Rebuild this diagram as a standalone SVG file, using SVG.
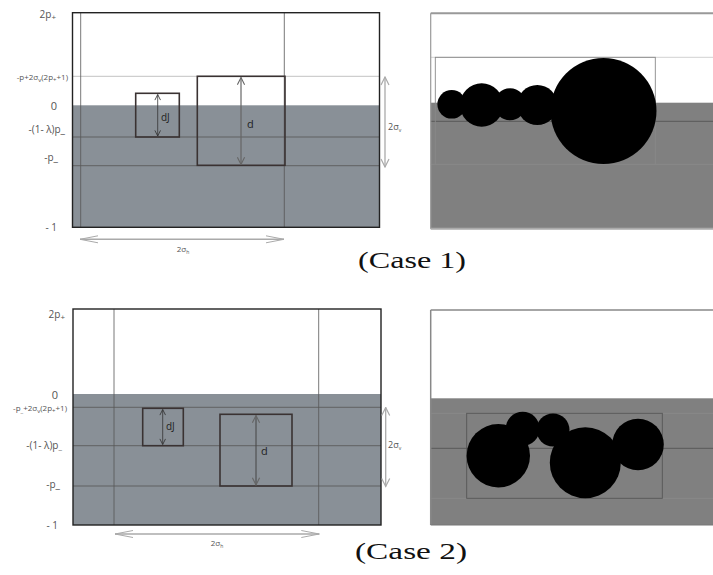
<svg xmlns="http://www.w3.org/2000/svg" width="713" height="575" viewBox="0 0 713 575">
<style>
.lbl{font-family:"Open Sans","Liberation Sans",sans-serif;font-size:10px;fill:#555}
.sm{font-size:8px}
.box{fill:none;stroke:#3a3232;stroke-width:1.6}
.frame{fill:none;stroke:#222;stroke-width:1.4}
.vl{stroke:#555;stroke-width:0.8}
.hl{stroke:#5c5c5c;stroke-width:0.9}
.gfill{fill:#899097}
.rfill{fill:#808080}
.cap{font-family:"Liberation Serif","DejaVu Serif",serif;font-size:24px;fill:#111}
</style>
<defs>
<marker id="mD" viewBox="0 0 10 10" refX="9" refY="5" markerWidth="7" markerHeight="7" orient="auto-start-reverse" markerUnits="userSpaceOnUse"><path d="M1,1 L9,5 L1,9" fill="none" stroke="#333" stroke-width="1.2"/></marker>
<marker id="mG" viewBox="0 0 10 10" refX="9" refY="5" markerWidth="9" markerHeight="9" orient="auto-start-reverse" markerUnits="userSpaceOnUse"><path d="M1,1 L9,5 L1,9" fill="none" stroke="#666" stroke-width="1.2"/></marker>
<marker id="mL" viewBox="0 0 10 10" refX="9" refY="5" markerWidth="10" markerHeight="10" orient="auto-start-reverse" markerUnits="userSpaceOnUse"><path d="M1,1 L9,5 L1,9" fill="none" stroke="#aaa" stroke-width="1.2"/></marker>
<marker id="mH" viewBox="0 0 20 10" refX="19" refY="5" markerWidth="20" markerHeight="10" orient="auto-start-reverse" markerUnits="userSpaceOnUse"><path d="M1,1.5 L19,5 L1,8.5" fill="none" stroke="#aaa" stroke-width="1"/></marker>
</defs>

<!-- Case 1 left plot -->
<g id="case1-plot">
<rect x="72.5" y="12.7" width="307" height="214.6" fill="#fff"/>
<rect class="gfill" x="72.5" y="105.3" width="307" height="122"/>
<line x1="72.5" y1="76.3" x2="379.5" y2="76.3" stroke="#bbb" stroke-width="0.9"/>
<line class="hl" x1="72.5" y1="137" x2="379.5" y2="137"/>
<line class="hl" x1="72.5" y1="165.7" x2="379.5" y2="165.7"/>
<line class="vl" x1="80.7" y1="12.7" x2="80.7" y2="227.3"/>
<line class="vl" x1="284.3" y1="12.7" x2="284.3" y2="227.3"/>
<rect class="frame" x="72.5" y="12.7" width="307" height="214.6"/>
</g>
<g id="case1-dJ">
<rect class="box" x="135.7" y="93.3" width="43.6" height="43.7"/>
<line x1="157.7" y1="94.5" x2="157.7" y2="136" stroke="#333" stroke-width="0.8" marker-start="url(#mD)" marker-end="url(#mD)"/>
<text class="lbl" x="161" y="121" style="fill:#222">dJ</text>
</g>
<g id="case1-d">
<rect class="box" x="197.3" y="76.3" width="87.7" height="89"/>
<line x1="241" y1="77.5" x2="241" y2="164.5" stroke="#666" stroke-width="1.2" marker-start="url(#mG)" marker-end="url(#mG)"/>
<text class="lbl" x="247" y="128" style="fill:#222;font-size:11px">d</text>
</g>
<g id="case1-axis-labels">
<text class="lbl" x="56" y="18" text-anchor="end">2p<tspan class="sm" dy="2">+</tspan></text>
<text class="lbl sm" x="68" y="79.5" text-anchor="end">-p+2σ<tspan font-size="6" dy="2">v</tspan><tspan dy="-2">(2p</tspan><tspan font-size="6" dy="2">+</tspan><tspan dy="-2">+1)</tspan></text>
<text class="lbl" x="57" y="110" text-anchor="end" style="font-size:11px">0</text>
<text class="lbl" x="65" y="133" text-anchor="end">-(1- λ)p_</text>
<text class="lbl" x="58" y="161" text-anchor="end">-p_</text>
<text class="lbl" x="57" y="231" text-anchor="end">- 1</text>
</g>
<g id="case1-sigma">
<line x1="385" y1="77" x2="385" y2="167" stroke="#aaa" stroke-width="1.3" marker-start="url(#mL)" marker-end="url(#mL)"/>
<text class="lbl sm" x="388" y="130" style="font-size:9px">2σ<tspan font-size="5" dy="2">v</tspan></text>
<line x1="80" y1="239.3" x2="284" y2="239.3" stroke="#aaa" stroke-width="1.5" marker-start="url(#mH)" marker-end="url(#mH)"/>
<text class="lbl sm" x="183" y="252" text-anchor="middle">2σ<tspan font-size="5" dy="2">h</tspan></text>
</g>

<!-- Case 1 right -->
<g id="case1-sim">
<rect x="430.7" y="13.3" width="290" height="215" fill="#fff"/>
<rect class="rfill" x="430.7" y="102.7" width="290" height="126"/>
<line x1="430.7" y1="57.3" x2="713" y2="57.3" stroke="#ccc" stroke-width="0.9"/>
<line x1="430.7" y1="121.3" x2="713" y2="121.3" stroke="#555" stroke-width="0.9"/>
<line x1="430.7" y1="164.3" x2="713" y2="164.3" stroke="#8a8a8a" stroke-width="0.8"/>
<rect x="435.3" y="57.3" width="220" height="107" fill="none" stroke="#888" stroke-width="0.9"/>
<line x1="430.7" y1="13.3" x2="713" y2="13.3" stroke="#999" stroke-width="2"/>
<line x1="430.7" y1="13.3" x2="430.7" y2="228.7" stroke="#999" stroke-width="1.2"/>
<line x1="430.7" y1="228.7" x2="713" y2="228.7" stroke="#aaa" stroke-width="2"/>
<circle cx="451.7" cy="104.3" r="14.3"/>
<circle cx="481.7" cy="105" r="21.7"/>
<circle cx="510" cy="104.3" r="16"/>
<circle cx="537.3" cy="105" r="20"/>
<circle cx="603.5" cy="111" r="53"/>
</g>
<text id="caption1" class="cap" x="358" y="268" textLength="108" lengthAdjust="spacingAndGlyphs">(Case 1)</text>

<!-- Case 2 left plot -->
<g id="case2-plot">
<rect x="73" y="309" width="308" height="216" fill="#fff"/>
<rect class="gfill" x="73" y="394" width="308" height="131"/>
<line class="hl" x1="73" y1="407.3" x2="381" y2="407.3"/>
<line class="hl" x1="73" y1="445.7" x2="381" y2="445.7"/>
<line class="hl" x1="73" y1="486" x2="381" y2="486"/>
<line class="vl" x1="114" y1="309" x2="114" y2="525" stroke="#666"/>
<line class="vl" x1="318.7" y1="309" x2="318.7" y2="525"/>
<rect class="frame" x="73" y="309" width="308" height="216"/>
</g>
<g id="case2-dJ">
<rect class="box" x="142.7" y="408.3" width="40.6" height="37.4"/>
<line x1="162.7" y1="409.5" x2="162.7" y2="444.5" stroke="#333" stroke-width="0.8" marker-start="url(#mD)" marker-end="url(#mD)"/>
<text class="lbl" x="166" y="430" style="fill:#222">dJ</text>
</g>
<g id="case2-d">
<rect class="box" x="220" y="414.3" width="72" height="71.7"/>
<line x1="256" y1="415.5" x2="256" y2="485" stroke="#444" stroke-width="1" marker-start="url(#mG)" marker-end="url(#mG)"/>
<text class="lbl" x="261" y="455" style="fill:#222;font-size:11px">d</text>
</g>
<g id="case2-axis-labels">
<text class="lbl" x="65" y="318" text-anchor="end">2p<tspan class="sm" dy="2">+</tspan></text>
<text class="lbl" x="58" y="399" text-anchor="end" style="font-size:11px">0</text>
<text class="lbl sm" x="67" y="411" text-anchor="end">-p<tspan font-size="6" dy="2">_</tspan><tspan dy="-2">+2σ</tspan><tspan font-size="6" dy="2">v</tspan><tspan dy="-2">(2p</tspan><tspan font-size="6" dy="2">+</tspan><tspan dy="-2">+1)</tspan></text>
<text class="lbl" x="62" y="449" text-anchor="end">-(1- λ)p<tspan class="sm" dy="1">_</tspan></text>
<text class="lbl" x="60" y="488" text-anchor="end">-p_</text>
<text class="lbl" x="58" y="529" text-anchor="end">- 1</text>
</g>
<g id="case2-sigma">
<line x1="385.7" y1="407.5" x2="385.7" y2="486.5" stroke="#aaa" stroke-width="1.3" marker-start="url(#mL)" marker-end="url(#mL)"/>
<text class="lbl sm" x="388" y="448" style="font-size:9px">2σ<tspan font-size="5" dy="2">v</tspan></text>
<line x1="115" y1="534" x2="319.3" y2="534" stroke="#aaa" stroke-width="1.5" marker-start="url(#mH)" marker-end="url(#mH)"/>
<text class="lbl sm" x="217" y="546" text-anchor="middle">2σ<tspan font-size="5" dy="2">h</tspan></text>
</g>

<!-- Case 2 right -->
<g id="case2-sim">
<rect x="430.7" y="310" width="290" height="215" fill="#fff"/>
<rect class="rfill" x="430.7" y="398.3" width="290" height="126.7"/>
<line x1="430.7" y1="413.3" x2="713" y2="413.3" stroke="#8a8a8a" stroke-width="0.8"/>
<line x1="430.7" y1="448.3" x2="713" y2="448.3" stroke="#555" stroke-width="0.9"/>
<line x1="430.7" y1="498.3" x2="713" y2="498.3" stroke="#8a8a8a" stroke-width="0.8"/>
<rect x="466.7" y="413.3" width="195.6" height="85" fill="none" stroke="#555" stroke-width="0.9"/>
<line x1="430.7" y1="310" x2="713" y2="310" stroke="#888" stroke-width="1.5"/>
<line x1="430.7" y1="310" x2="430.7" y2="525" stroke="#888" stroke-width="1.5"/>
<line x1="430.7" y1="525" x2="713" y2="525" stroke="#777" stroke-width="1.2"/>
<circle cx="498.3" cy="455.7" r="31.7"/>
<circle cx="522.7" cy="428.8" r="17"/>
<circle cx="553" cy="430" r="16.5"/>
<circle cx="585.3" cy="462.7" r="35.5"/>
<circle cx="638" cy="444.5" r="25.8"/>
</g>
<text id="caption2" class="cap" x="355" y="559" textLength="112" lengthAdjust="spacingAndGlyphs">(Case 2)</text>
</svg>
